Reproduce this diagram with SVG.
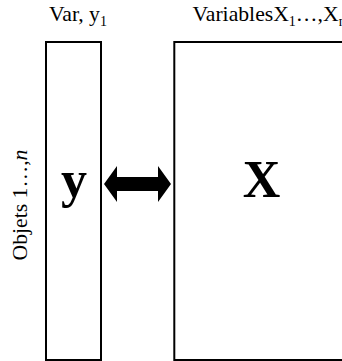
<svg xmlns="http://www.w3.org/2000/svg" width="342" height="361" viewBox="0 0 342 361">
<style>
.box{fill:#fff;stroke:#000;stroke-width:2}
.lbl{font-family:"Liberation Serif",serif;font-size:21.7px;fill:#000}
.sub{font-size:14px}
.big{font-family:"Liberation Serif",serif;font-size:52px;font-weight:bold;fill:#000;text-anchor:middle}
</style>
<rect width="342" height="361" fill="#fff"/>
<g id="label-var">
<text class="lbl" x="49" y="21">Var, y<tspan class="sub" dy="5">1</tspan></text>
</g>
<g id="label-variables">
<text class="lbl" x="192.5" y="21">VariablesX<tspan class="sub" dy="5">1</tspan><tspan dy="-5">…,X</tspan><tspan class="sub" dy="5">n</tspan></text>
</g>
<g id="label-objets">
<text class="lbl" transform="translate(27,205) rotate(-90)" text-anchor="middle">Objets 1…,<tspan font-style="italic">n</tspan></text>
</g>
<g id="node-y">
<rect class="box" x="46" y="42" width="55" height="318"/>
<text class="big" x="74" y="197">y</text>
</g>
<g id="node-X">
<rect class="box" x="174.3" y="42" width="180" height="318"/>
<text class="big" x="261.5" y="197">X</text>
</g>
<g id="connectors">
<polygon points="104,184 117,166 117,177 158,177 158,166 171,184 158,202 158,191 117,191 117,202" fill="#000"/>
</g>
</svg>
